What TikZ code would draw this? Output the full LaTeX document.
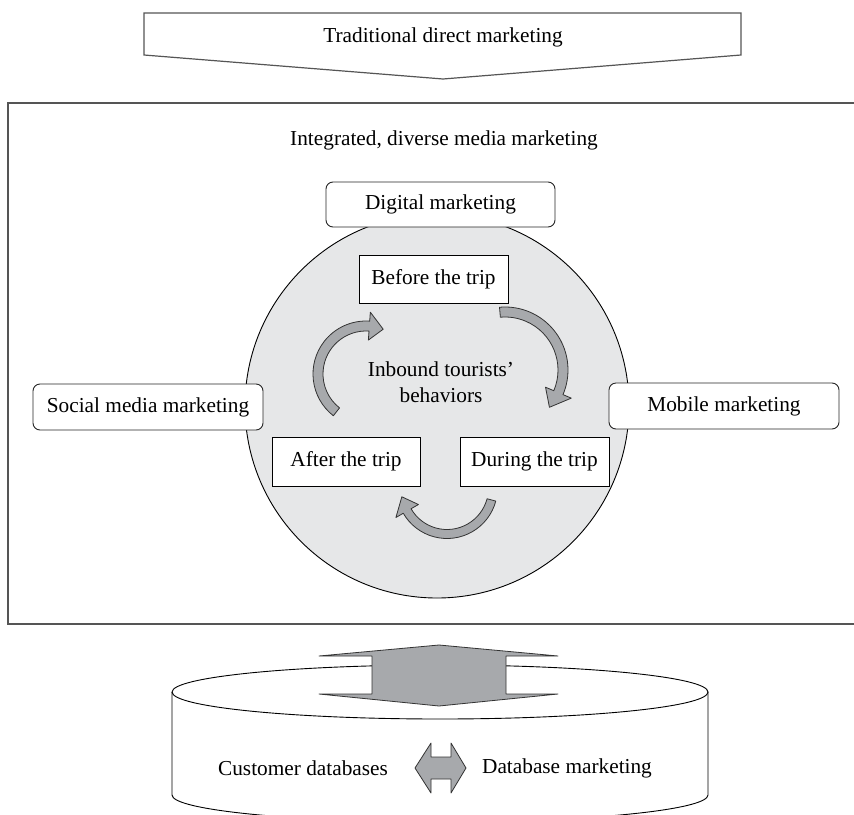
\documentclass[tikz,border=0pt]{standalone}
\usepackage{fontspec}
\setmainfont{Liberation Serif}
\definecolor{circfill}{HTML}{E6E7E8}
\definecolor{arrfill}{HTML}{A7A9AC}
\definecolor{framegray}{HTML}{555555}
\tikzset{
  lbl/.style={font=\fontsize{21.3}{25.5}\selectfont, inner sep=0pt, align=center},
  sqbox/.style={lbl, draw=black, line width=0.9pt, fill=white},
  rbox/.style={lbl, draw=black!85, line width=0.9pt, fill=white, rounded corners=7pt},
  arrowfill/.style={fill=arrfill, draw=black!80, line width=0.8pt, line join=round},
}
\newcommand\curvarrow[8]{%
  \begin{scope}[shift={(#1,#2)}]
    \filldraw[arrowfill] (#4:{#3+#6/2}) arc[start angle=#4, end angle=#5, radius={#3+#6/2}]
      -- (#5:{#3+#7/2}) -- ({#5+#8}:#3) -- (#5:{#3-#7/2}) -- (#5:{#3-#6/2})
      arc[start angle=#5, end angle=#4, radius={#3-#6/2}] -- cycle;
  \end{scope}}
\begin{document}
\begin{tikzpicture}[x=1pt,y=-1pt]
\useasboundingbox[fill=white] (0,0) rectangle (854,814);
% top arrow
\draw[draw=framegray, line width=1.2pt, fill=white, line join=miter]
  (144,13) -- (741,13) -- (741,55) -- (443,79) -- (144,55) -- cycle;
\node[lbl] (tdm) at (443,37) {Traditional direct marketing};
% main frame
\draw[draw=framegray, line width=1.5pt] (880,103) -- (8,103) -- (8,624) -- (880,624);
\node[lbl] (idm) at (444,140) {Integrated, diverse media marketing};
% circle
\draw[fill=circfill, draw=black, line width=0.9pt] (437,406) circle[radius=192];
% curved arrows
\curvarrow{366}{374}{48}{128}{274}{10}{28}{17}
\curvarrow{505}{370}{58}{265}{383}{10}{28}{17}
\curvarrow{447}{488}{46}{15}{150}{9}{26}{19}
% boxes
\node[rbox, minimum width=229, minimum height=45] (dig) at (440.5,204.5) {Digital marketing};
\node[sqbox, minimum width=149, minimum height=48] (before) at (433.5,279) {Before the trip};
\node[lbl] (itb) at (441,382) {Inbound tourists'\\behaviors};
\node[rbox, minimum width=230, minimum height=46] (soc) at (148,407) {Social media marketing};
\node[rbox, minimum width=230, minimum height=46] (mob) at (724,406) {Mobile marketing};
\node[sqbox, minimum width=148, minimum height=49] (after) at (346,461.5) {After the trip};
\node[sqbox, minimum width=149, minimum height=49] (during) at (534.5,461.5) {During the trip};
% cylinder
\draw[black, line width=0.9pt] (440,692) ellipse[x radius=268, y radius=27];
\draw[black, line width=0.9pt] (172,692) -- (172,795)
  arc[start angle=180, end angle=0, x radius=268, y radius=27] -- (708,692);
% big vertical double arrow
\filldraw[arrowfill] (439,645) -- (558,656) -- (506,656) -- (506,694) -- (558,694)
  -- (439,706) -- (319,694) -- (372,694) -- (372,656) -- (319,656) -- cycle;
% small horizontal double arrow
\filldraw[arrowfill] (415,768) -- (431,743) -- (431,757) -- (451,757) -- (451,743)
  -- (466,768) -- (451,793) -- (451,779) -- (431,779) -- (431,793) -- cycle;
\node[lbl] (cdb) at (303,768) {Customer databases};
\node[lbl] (dbm) at (567,768) {Database marketing};
\end{tikzpicture}
\end{document}
